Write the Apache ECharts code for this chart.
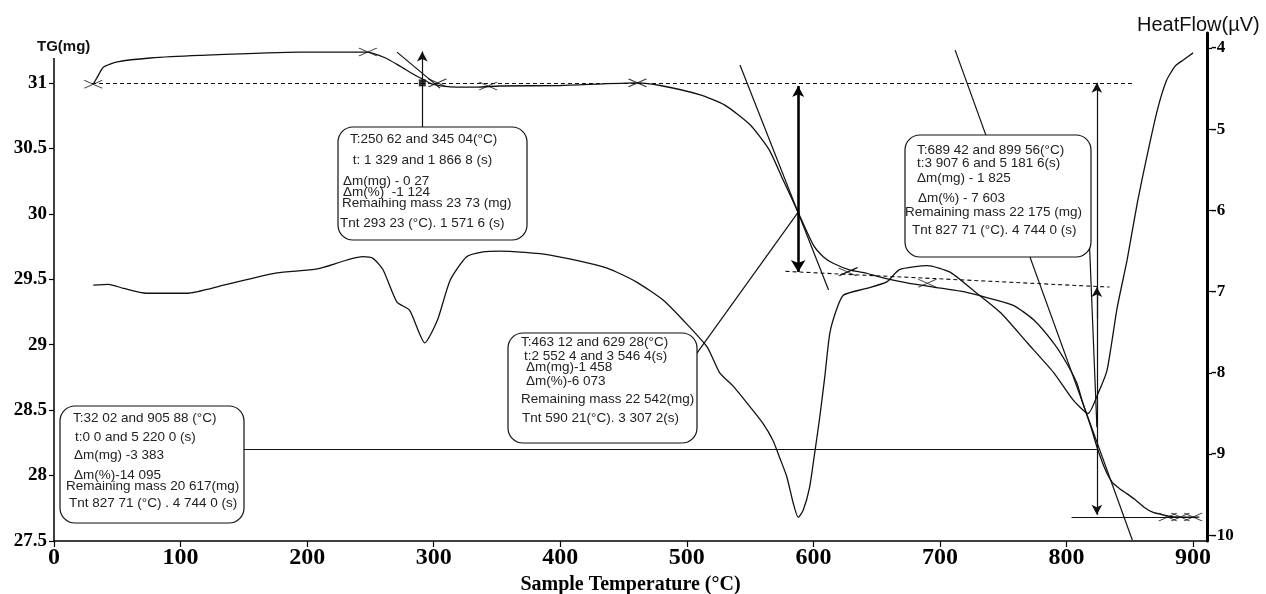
<!DOCTYPE html>
<html><head><meta charset="utf-8">
<script src="https://cdn.jsdelivr.net/npm/echarts@6/dist/echarts.min.js"></script>
<style>html,body{margin:0;padding:0;background:#fff}#c{width:1266px;height:594px}</style>
</head><body><div id="c"></div>
<script>
// ---- tick labels ----
const tempTicks = [0,100,200,300,400,500,600,700,800,900];
const tgTicks = [27.5,28,28.5,29,29.5,30,30.5,31];
const hfTicks = [-10,-9,-8,-7,-6,-5,-4];

// ---- TG curve: [temperature °C, mass mg] ----
const tgCurve = [
 [31,30.99],[34,31.04],[39,31.12],[50,31.16],[76,31.19],[115,31.21],[194,31.235],[247,31.235],
 [262,31.19],[273,31.13],[285,31.06],[293,31.02],[299,30.99],[313,30.97],[334,30.968],[352,30.976],
 [400,30.98],[461,31.0],[479,30.98],[510,30.91],[530,30.83],[550,30.68],[565,30.49],[576,30.26],
 [588,30.01],[600,29.76],[608,29.67],[616,29.62],[629,29.57],[640,29.55],[655,29.51],[675,29.47],
 [695,29.44],[721,29.40],[737,29.36],[758,29.30],[774,29.19],[790,29.01],[800,28.86],[808,28.71],
 [813,28.55],[819,28.38],[824,28.22],[830,28.06],[836,27.95],[842,27.90],[848,27.86],[855,27.81],
 [861,27.76],[868,27.72],[876,27.70],[885,27.685],[905,27.683]
];

// ---- Heat flow (DSC) curve: [temperature °C, µV] ----
const heatFlowCurve = [
 [31,-6.92],[43,-6.91],[55,-6.96],[73,-7.02],[105,-7.02],[134,-6.92],[176,-6.77],[208,-6.72],
 [244,-6.57],[252,-6.59],[260,-6.73],[271,-7.13],[281,-7.23],[293,-7.63],[303,-7.35],[313,-6.86],
 [326,-6.57],[339,-6.51],[352,-6.50],[392,-6.55],[437,-6.71],[460,-6.88],[481,-7.10],[497,-7.35],
 [516,-7.68],[526,-8.00],[537,-8.17],[550,-8.42],[560,-8.62],[568,-8.83],[574,-9.07],[579,-9.28],
 [584,-9.60],[588,-9.78],[592,-9.69],[597,-9.41],[601,-8.99],[605,-8.55],[609,-8.05],[613,-7.51],
 [619,-7.19],[624,-7.04],[642,-6.96],[658,-6.88],[668,-6.73],[690,-6.68],[708,-6.76],[726,-6.98],
 [748,-7.26],[769,-7.63],[790,-8.00],[805,-8.33],[817,-8.50],[825,-8.25],[832,-7.97],[840,-7.20],
 [848,-6.60],[856,-5.90],[864,-5.30],[872,-4.75],[879,-4.40],[886,-4.22],[892,-4.15],[900,-4.06]
];

// ---- analysis guides (in TG axis units) ----
const dashedGuides = [
 [[30,31.0],[852,31.0]],
 [[578,29.56],[834,29.44]]
];
const solidGuides = [
 [[150,28.20],[824,28.20]],
 [[804,27.683],[903,27.683]],
 [[271,31.235],[305,30.96]],
 [[542,31.136],[612,29.417]],
 [[712,31.25],[852,27.508]],
 [[818,29.80],[824,28.37]],
 [[508,28.936],[588,30.013]],
 [[621,29.53],[635,29.59]]
];
// arrows: [from, to, arrowAtStart]
const arrowGuides = [
 [[291,30.655],[291,31.24],false],
 [[824,29.44],[824,31.0],false],
 [[824,29.44],[824,27.70],false],
 [[824,29.2],[824,29.44],false]
];
const boldArrow = [[588,30.976],[588,29.555]];
const crossMarks = [[31,30.99],[248,31.235],[303,31.0],[343,30.976],[461,31.0],[627,29.555],[690,29.47],[880,27.683],[890,27.683],[900,27.683]];
const squareMarks = [[291,31.0]];

// ---- annotation box texts ----
const box1Lines = ['T:250 62 and 345 04(°C)',' t: 1 329 and 1 866 8 (s)','Δm(mg) - 0 27','Δm(%)  -1 124','Remaihing mass 23 73 (mg)','Tnt 293 23 (°C). 1 571 6 (s)'];
const box2Lines = ['T:689 42 and 899 56(°C)','t:3 907 6 and 5 181 6(s)','Δm(mg) - 1 825','Δm(%) - 7 603','Remaining mass 22 175 (mg)','Tnt 827 71 (°C). 4 744 0 (s)'];
const box3Lines = ['T:463 12 and 629 28(°C)','t:2 552 4 and 3 546 4(s)','Δm(mg)-1 458','Δm(%)-6 073','Remaining mass 22 542(mg)','Tnt 590 21(°C). 3 307 2(s)'];
const box4Lines = ['T:32 02 and 905 88 (°C)','t:0 0 and 5 220 0 (s)','Δm(mg) -3 383','Δm(%)-14 095','Remaining mass 20 617(mg)','Tnt 827 71 (°C) . 4 744 0 (s)'];

// layout of boxes (pixels)
const boxLayout = [
 {lines: box1Lines, rect:[338,127,189,113], pos:[[350,139],[349,160],[343,181],[343,192],[342,203],[340,223]]},
 {lines: box2Lines, rect:[905,135,186,122], pos:[[917,150],[917,163],[917,178],[918,198],[905,212],[912,230]]},
 {lines: box3Lines, rect:[508,333,189,110], pos:[[521,342],[524,356],[526,367],[526,381],[521,399],[522,418]]},
 {lines: box4Lines, rect:[60,406,184,117], pos:[[73,418],[75,437],[74,455],[74,475],[66,486],[69,503]]}
];

const serif = '"Liberation Serif","Times New Roman",serif';
const sans = '"Liberation Sans",Arial,sans-serif';

const chart = echarts.init(document.getElementById('c'));

const lineItems = [];
dashedGuides.forEach(g => lineItems.push([{coord:g[0], symbol:'none', lineStyle:{type:[4,3], width:1.1, color:'#111'}},{coord:g[1], symbol:'none'}]));
solidGuides.forEach(g => lineItems.push([{coord:g[0], symbol:'none', lineStyle:{type:'solid', width:1.2, color:'#111'}},{coord:g[1], symbol:'none'}]));
arrowGuides.forEach(g => lineItems.push([{coord:g[0], symbol: g[2]?'arrow':'none', lineStyle:{type:'solid', width:1.2, color:'#111'}},{coord:g[1], symbol:'arrow', symbolSize:[8,10]}]));
lineItems.push([{coord:boldArrow[0], symbol:'arrow', symbolSize:[9,11], lineStyle:{type:'solid', width:2.6, color:'#000'}},{coord:boldArrow[1], symbol:'arrow', symbolSize:[11,12]}]);

const graphics = [
 {type:'text', x:37, y:47, style:{text:'TG(mg)', font:'bold 15px '+sans, fill:'#111', align:'left', verticalAlign:'middle', textAlign:'left', textVerticalAlign:'middle'}},
 {type:'text', x:1137, y:25, style:{text:'HeatFlow(µV)', font:'20px '+sans, fill:'#111', align:'left', verticalAlign:'middle', textAlign:'left', textVerticalAlign:'middle'}}
];
boxLayout.forEach(b => {
  graphics.push({type:'rect', z:100, shape:{x:b.rect[0], y:b.rect[1], width:b.rect[2], height:b.rect[3], r:15}, style:{fill:'#fff', stroke:'#111', lineWidth:1.2}});
  b.lines.forEach((t,i) => graphics.push({type:'text', z:101, x:b.pos[i][0], y:b.pos[i][1], style:{text:t, font:'13.5px '+sans, fill:'#222', align:'left', verticalAlign:'middle', textAlign:'left', textVerticalAlign:'middle'}}));
});

chart.setOption({
  animation:false,
  backgroundColor:'#fff',
  grid:{left:54, right:59, top:33, bottom:53, containLabel:false, outerBoundsMode:'none'},
  xAxis:{type:'value', min:0, max:911,
    name:'Sample Temperature (°C)', nameLocation:'middle', nameGap:32,
    nameTextStyle:{fontFamily:serif, fontWeight:'bold', fontSize:20, color:'#000'},
    axisLine:{lineStyle:{color:'#000', width:1.5}},
    axisTick:{show:true, length:6, customValues:tempTicks, lineStyle:{color:'#000', width:1.2}},
    axisLabel:{customValues:tempTicks, fontFamily:serif, fontWeight:'bold', fontSize:24, color:'#000', margin:5},
    splitLine:{show:false}},
  yAxis:[
    {type:'value', min:27.5, max:31.381, position:'left',
     axisLine:{show:false},
     axisTick:{show:true, length:5, customValues:tgTicks, lineStyle:{color:'#000', width:1.2}},
     axisLabel:{customValues:tgTicks, fontFamily:serif, fontWeight:'bold', fontSize:19, color:'#000', margin:7},
     splitLine:{show:false}},
    {type:'value', min:-10.071, max:-3.815, position:'right',
     axisLine:{show:true, lineStyle:{color:'#000', width:3}},
     axisTick:{show:true, length:5, customValues:hfTicks, lineStyle:{color:'#000', width:1.2}},
     axisLabel:{customValues:hfTicks, fontFamily:serif, fontWeight:'bold', fontSize:17, color:'#000', margin:4},
     splitLine:{show:false}}
  ],
  series:[
    {type:'line', name:'TG', yAxisIndex:0, data:tgCurve, showSymbol:false, smooth:0.2,
     lineStyle:{color:'#111', width:1.3}, z:3,
     markLine:{silent:true, animation:false, symbol:['none','none'], label:{show:false}, emphasis:{disabled:true}, data:lineItems}},
    {type:'line', name:'HeatFlow', yAxisIndex:1, data:heatFlowCurve, showSymbol:false, smooth:0.2,
     lineStyle:{color:'#111', width:1.3}, z:3},
    {type:'scatter', yAxisIndex:0, data:crossMarks, symbol:'path://M0,0L20,8M0,8L20,0', symbolSize:[18,8],
     itemStyle:{color:'none', borderColor:'#111', borderWidth:1.1}, z:4, silent:true},
    {type:'scatter', yAxisIndex:0, data:squareMarks, symbol:'rect', symbolSize:7, itemStyle:{color:'#000'}, z:4, silent:true}
  ],
  graphic: graphics
});

// left axis line from 27.5 up to the top of the scale
const pBot = chart.convertToPixel({xAxisIndex:0, yAxisIndex:0},[0,27.5]);
const pTop = chart.convertToPixel({xAxisIndex:0, yAxisIndex:0},[0,31.19]);
graphics.push({type:'line', z:50, shape:{x1:pBot[0], y1:pBot[1], x2:pTop[0], y2:pTop[1]}, style:{stroke:'#000', lineWidth:1.5}});
chart.setOption({graphic: graphics});
</script></body></html>
